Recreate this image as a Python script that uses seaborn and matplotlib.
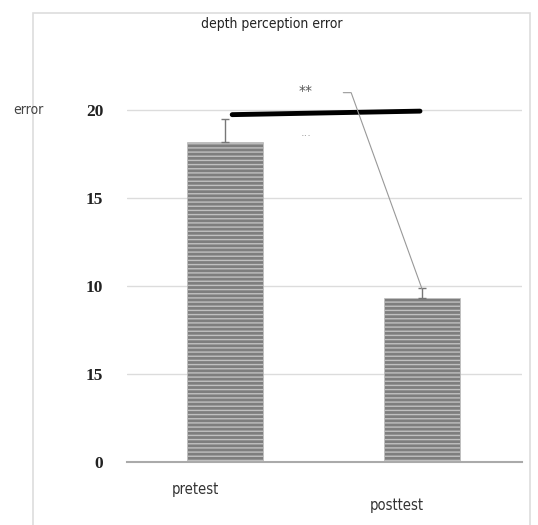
import matplotlib
matplotlib.use("Agg")
import matplotlib.pyplot as plt
import matplotlib.patches as patches
import seaborn as sns
import pandas as pd

# Data
categories = ["pretest", "posttest"]
errors_mean = [18.2, 9.3]
errors_sd = [1.3, 0.6]
ytick_values = [0, 5, 10, 15, 20]
ytick_labels = ["0", "15", "10", "15", "20"]   # as printed in the original

df = pd.DataFrame({"test": categories, "error": errors_mean})

sns.set_style("white")
plt.rcParams["hatch.linewidth"] = 1.0
narrow = ["Liberation Sans Narrow", "DejaVu Sans"]

fig = plt.figure(figsize=(5.38, 5.25), dpi=100)
ax = fig.add_axes([0.236, 0.12, 0.734, 0.737])

sns.barplot(data=df, x="test", y="error", ax=ax, width=0.386,
            color="#7e7e7e", edgecolor="#c0c0c0", linewidth=0.5,
            hatch="----", saturation=1, errorbar=None)
ax.errorbar(range(len(categories)), errors_mean, yerr=[[0, 0], errors_sd],
            fmt="none", ecolor="#777777", elinewidth=1, capsize=3)

ax.set_xlim(-0.497, 1.508)
ax.set_ylim(0, 22)
ax.set_xlabel("")
ax.set_ylabel("")

# grid
ax.set_yticks(ytick_values)
ax.set_yticklabels(ytick_labels, family="Liberation Serif", fontweight="bold",
                   fontsize=12.5, color="#222222")
ax.tick_params(axis="y", length=0, pad=17)
ax.yaxis.grid(True, color="#dcdcdc", linewidth=1)
ax.set_axisbelow(True)

# x axis: category boundary ticks, labels staggered
ax.set_xticks([-0.5, 0.5, 1.5])
ax.set_xticklabels([])
ax.tick_params(axis="x", length=4, color="#999999", direction="out")
ax.text(0 - 0.15, -1.55, categories[0], ha="center", va="center",
        family=narrow, stretch="condensed", fontsize=10.5, color="#333333")
ax.text(1 - 0.13, -2.45, categories[1], ha="center", va="center",
        family=narrow, stretch="condensed", fontsize=10.5, color="#333333")

for s in ["top", "right", "left"]:
    ax.spines[s].set_visible(False)
ax.spines["bottom"].set_color("#aaaaaa")
ax.spines["bottom"].set_linewidth(1.5)

# significance marks
ax.plot([0.035, 0.99], [19.75, 19.95], color="black", linewidth=3.5,
        solid_capstyle="round")
ax.text(0.41, 21.1, "**", ha="center", va="center", fontsize=10,
        color="#555555")
ax.text(0.41, 18.7, "...", ha="center", va="center", fontsize=8,
        color="#999999")
ax.plot([0.6, 0.64, 1.0], [21.0, 21.0, 9.85], color="#999999", linewidth=0.8)

# outer frame and texts
fig.patches.append(patches.Rectangle((33 / 538, -0.05), (530 - 33) / 538,
                                     1.05 - 13 / 525, transform=fig.transFigure,
                                     fill=False, edgecolor="#dddddd",
                                     linewidth=1.2))
fig.text(272 / 538, 1 - 24 / 525, "depth perception error", ha="center",
         va="center", family=narrow, stretch="condensed", fontsize=10,
         color="#222222")
fig.text(28 / 538, 1 - 110 / 525, "error", ha="center", va="center",
         family=narrow, stretch="condensed", fontsize=10, color="#444444")

fig.savefig("out.png", dpi=100)
